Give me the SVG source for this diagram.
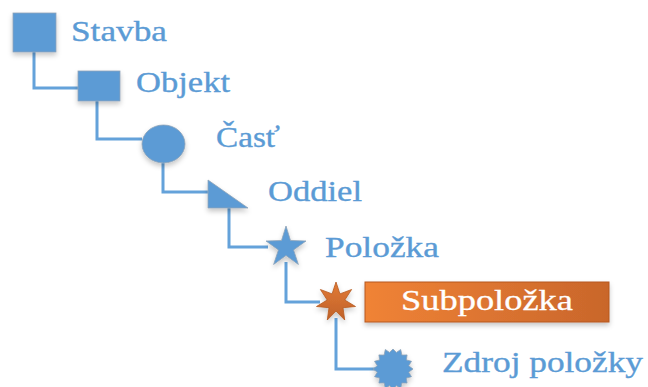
<svg xmlns="http://www.w3.org/2000/svg" width="648" height="387" viewBox="0 0 648 387">
  <defs>
    <filter id="shadow" x="-30%" y="-30%" width="160%" height="170%">
      <feDropShadow dx="0" dy="3" stdDeviation="2.5" flood-color="#000000" flood-opacity="0.22"/>
    </filter>
    <linearGradient id="orangeFill" x1="0" y1="0" x2="1" y2="0">
      <stop offset="0" stop-color="#F08336"/>
      <stop offset="1" stop-color="#C9662B"/>
    </linearGradient>
    <linearGradient id="orangeStar" x1="0" y1="0" x2="0" y2="1">
      <stop offset="0" stop-color="#E27A35"/>
      <stop offset="1" stop-color="#C0622A"/>
    </linearGradient>
  </defs>
  <style>
    .shape { fill: #5B9BD5; stroke: #8FA3B8; stroke-width: 0.8; filter: url(#shadow); }
    .link { fill: none; stroke: #64A2DA; stroke-width: 3; stroke-linejoin: miter; }
    .label { font-family: "Liberation Serif", "Times New Roman", serif; font-size: 29px; fill: #5B9BD5; stroke: #5B9BD5; stroke-width: 0.35; }
    .label-hi { font-family: "Liberation Serif", "Times New Roman", serif; font-size: 29px; fill: #FFFFFF; stroke: #FFFFFF; stroke-width: 0.3; }
  </style>

  <!-- connectors -->
  <g id="connectors">
    <polyline class="link" points="34,52 34,88 78,88"/>
    <polyline class="link" points="97,101 97,139 142,139"/>
    <polyline class="link" points="163,163 163,192 208,192"/>
    <polyline class="link" points="229,208 229,247 268,247"/>
    <polyline class="link" points="286,262 286,302 320,302"/>
    <polyline class="link" points="336,318 336,369 376,369"/>
  </g>

  <g id="stavba">
    <rect class="shape" x="13" y="13" width="43" height="39"/>
    <text class="label" x="71" y="41" textLength="96" lengthAdjust="spacingAndGlyphs">Stavba</text>
  </g>

  <g id="objekt">
    <rect class="shape" x="78" y="71" width="42" height="30"/>
    <text class="label" x="136" y="92" textLength="94" lengthAdjust="spacingAndGlyphs">Objekt</text>
  </g>

  <g id="cast">
    <ellipse class="shape" cx="163.5" cy="144" rx="21.5" ry="19"/>
    <text class="label" x="216" y="147" textLength="64" lengthAdjust="spacingAndGlyphs">Časť</text>
  </g>

  <g id="oddiel">
    <polygon class="shape" points="208,180 208,208 248,208"/>
    <text class="label" x="268" y="201" textLength="94" lengthAdjust="spacingAndGlyphs">Oddiel</text>
  </g>

  <g id="polozka">
    <!-- five-pointed star, centre (286,247) -->
    <polygon class="shape" points="286,226 290.5,240.5 306,241 293.6,249.9 298.4,264.5 286,255.5 273.6,264.5 278.4,249.9 266,241 281.5,240.5"/>
    <text class="label" x="325" y="257" textLength="114" lengthAdjust="spacingAndGlyphs">Položka</text>
  </g>

  <g id="subpolozka">
    <!-- seven-pointed star, centre (336,302) -->
    <polygon fill="url(#orangeStar)" stroke="#B5591F" stroke-width="0.8" filter="url(#shadow)"
      points="336,282 339.9,293.9 351.6,289.5 344.8,300 355.5,306.5 343,307.7 344.7,320 336,311 327.3,320 329,307.7 316.5,306.5 327.2,300 320.4,289.5 332.1,293.9"/>
    <rect x="365" y="282" width="244" height="40" fill="url(#orangeFill)" stroke="#B5591F" stroke-width="1" filter="url(#shadow)"/>
    <text class="label-hi" x="401" y="310" textLength="172" lengthAdjust="spacingAndGlyphs">Subpoložka</text>
  </g>

  <g id="zdroj-polozky">
    <!-- sixteen-pointed seal, centre (393,369) -->
    <polygon class="shape" points="413,369 408.7,372.2 411.5,376.7 406.4,378.1 407.1,383.1 401.9,382.9 400.7,388.5 396.4,385.6 393,389 389.6,385.6 385.3,388.5 384.1,382.9 378.9,383.1 379.6,378.1 374.5,376.7 377.3,372.2 373,369 377.3,365.8 374.5,361.3 379.6,359.9 378.9,354.9 384.1,355.1 385.3,349.5 389.6,352.4 393,349 396.4,352.4 400.7,349.5 401.9,355.1 407.1,354.9 406.4,359.9 411.5,361.3 408.7,365.8"/>
    <text class="label" x="442" y="372" textLength="201" lengthAdjust="spacingAndGlyphs">Zdroj položky</text>
  </g>
</svg>
